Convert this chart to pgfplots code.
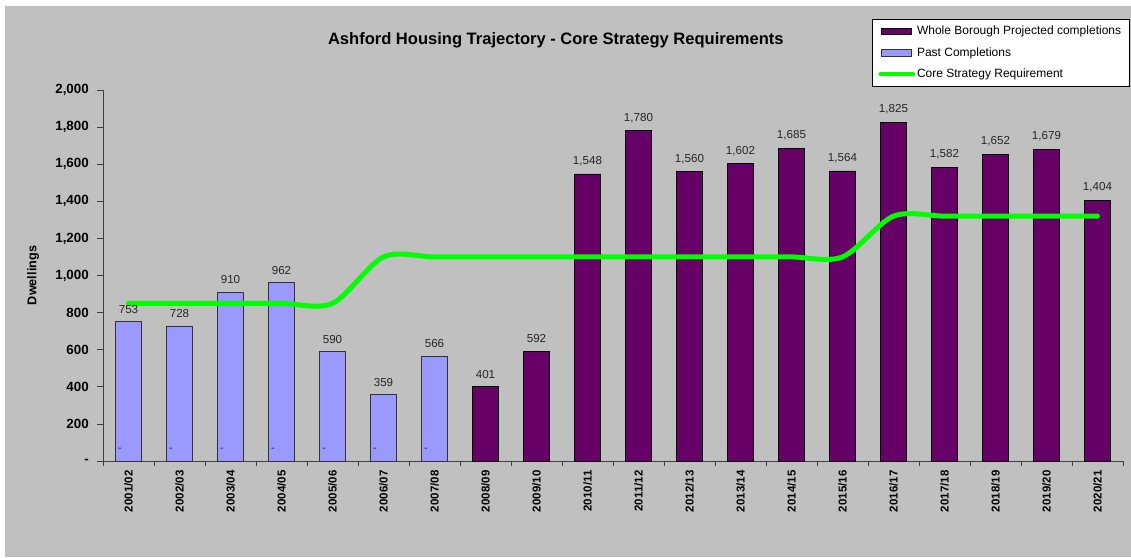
\documentclass[border=0pt]{standalone}
\usepackage{pgfplots}
\pgfplotsset{compat=1.18}
\usepackage{fontspec}
\setmainfont{Liberation Sans}
\definecolor{bg}{HTML}{C0C0C0}
\definecolor{proj}{HTML}{660066}
\definecolor{past}{HTML}{9999FF}
\definecolor{req}{HTML}{00FF00}
\begin{document}
\begin{tikzpicture}[x=0.75pt,y=0.75pt]
\fill[white] (0,0) rectangle (1131,557);
\fill[bg] (5,0) rectangle (1131,551);
\begin{axis}[
  at={(77.25pt,72pt)}, anchor=south west,
  scale only axis, width=765pt, height=278.25pt,
  xmin=-0.5, xmax=19.5, ymin=0, ymax=2000,
  axis x line*=bottom, axis y line*=left,
  axis line style={-, line width=0.6pt, black!75},
  tick align=outside, major tick length=4.5pt, minor tick length=3.75pt,
  tick style={line width=0.6pt, black!75},
  ytick={0,200,...,2000},
  yticklabels={-,200,400,600,800,{1,000},{1,200},{1,400},{1,600},{1,800},{2,000}},
  yticklabel style={font=\bfseries\fontsize{10}{12}\selectfont, inner sep=0pt},
  yticklabel shift=6pt,
  xtick={0,...,19},
  xticklabels={2001/02,2002/03,2003/04,2004/05,2005/06,2006/07,2007/08,2008/09,2009/10,2010/11,2011/12,2012/13,2013/14,2014/15,2015/16,2016/17,2017/18,2018/19,2019/20,2020/21},
  minor xtick={-0.5,0.5,...,19.5},
  every major x tick/.append style={draw=none},
  xticklabel style={rotate=90, anchor=east, inner sep=0pt, font=\bfseries\fontsize{8.6}{10}\selectfont},
  xticklabel shift=2.5pt,
  ylabel={Dwellings},
  ylabel style={font=\bfseries\fontsize{9.5}{11}\selectfont, at={(axis description cs:-0.0686,0.5)}, anchor=center},
  title={Ashford Housing Trajectory - Core Strategy Requirements},
  title style={font=\bfseries\fontsize{12.4}{14}\selectfont, at={(axis description cs:0.444,1.113)}, anchor=center, yshift=0pt},
  /pgf/number format/.cd, 1000 sep={,}, assume math mode=true, /pgfplots/.cd,
  nodes near coords style={font=\fontsize{8.7}{10}\selectfont, text=black!85, yshift=2.5pt},
  legend style={at={(axis description cs:0.754,1.191)}, anchor=north west, draw=black, fill=white,
    font=\fontsize{9}{11}\selectfont, row sep=5pt, inner xsep=4.5pt, inner ysep=3.5pt,
    nodes={inner sep=1.5pt}},
  legend cell align=left,
]
\addplot[ybar, bar width=19.5pt, bar shift=0pt, fill=proj, draw=black, line width=0.5pt,
  nodes near coords,
  legend image code/.code={\draw[fill=proj,draw=black,line width=0.5pt] (0pt,-2.5pt) rectangle (22.5pt,2.5pt);}]
  coordinates {(7,401) (8,592) (9,1548) (10,1780) (11,1560) (12,1602) (13,1685) (14,1564) (15,1825) (16,1582) (17,1652) (18,1679) (19,1404)};
\addlegendentry{Whole Borough Projected completions}
\addplot[ybar, bar width=19.5pt, bar shift=0pt, fill=past, draw=black!80, line width=0.5pt,
  nodes near coords,
  legend image code/.code={\draw[fill=past,draw=black!80,line width=0.5pt] (0pt,-2.5pt) rectangle (22.5pt,2.5pt);}]
  coordinates {(0,753) (1,728) (2,910) (3,962) (4,590) (5,359) (6,566)};
\addlegendentry{Past Completions}
\addplot[req, line width=3.75pt, smooth, line cap=round, mark=none,
  legend image code/.code={\draw[req,line width=3pt,line cap=round] (-1pt,0pt) -- (23.5pt,0pt);}]
  coordinates {(0,850) (1,850) (2,850) (3,850) (4,850) (5,1100) (6,1100) (7,1100) (8,1100) (9,1100) (10,1100) (11,1100) (12,1100) (13,1100) (14,1100) (15,1320) (16,1320) (17,1320) (18,1320) (19,1320)};
\addlegendentry{Core Strategy Requirement}
\addplot[draw=none, mark=none, forget plot, nodes near coords={-},
  every node near coord/.style={anchor=center, font=\fontsize{8}{10}\selectfont, text=black!85}]
  coordinates {(-0.17,60) (0.83,60) (1.83,60) (2.83,60) (3.83,60) (4.83,60) (5.83,60)};
\end{axis}
\end{tikzpicture}
\end{document}
